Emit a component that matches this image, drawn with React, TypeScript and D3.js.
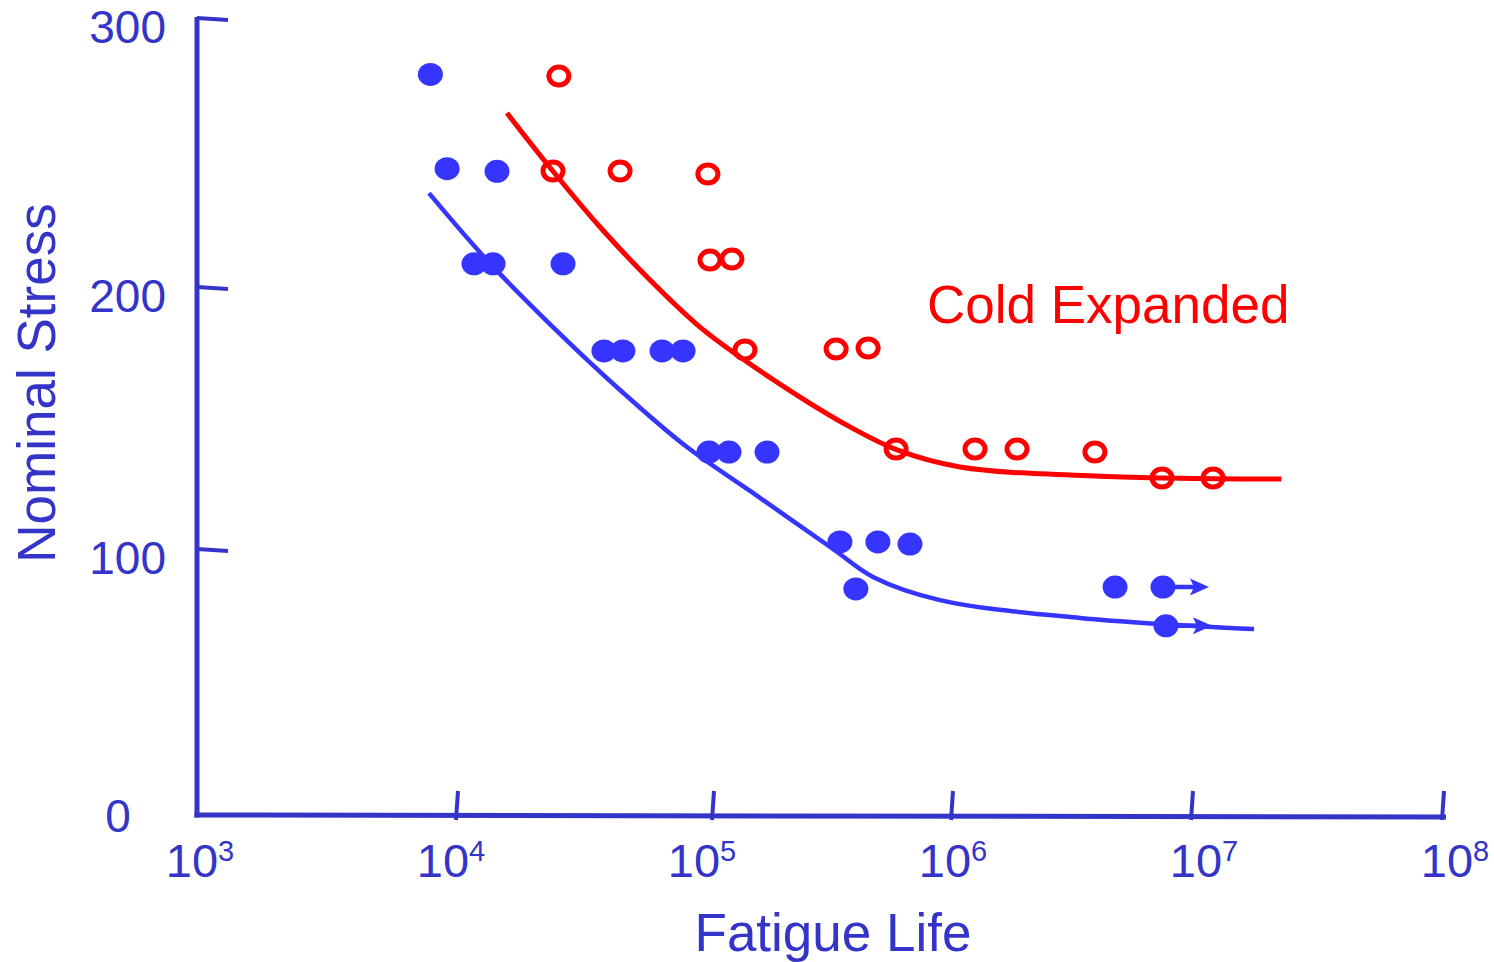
import React from "react";
import * as d3 from "d3";

// ---- data ----
const xTickValues = [1e3, 1e4, 1e5, 1e6, 1e7, 1e8];
const xTickExponents = ["3", "4", "5", "6", "7", "8"];
const yTickValues = [0, 100, 200, 300];

// Baseline (as-drilled) specimens – filled blue dots
const baselineLife = [7900, 9160, 14330, 11650, 13830, 25950, 37500, 44460, 63230, 76380, 96400, 116700, 168300, 339700, 489700, 667200, 396000, 4780000, 7570000, 7790000];
const baselineStress = [279, 244, 243, 208.6, 208.6, 208.6, 175.6, 175.6, 175.6, 175.6, 137, 137, 137, 102.7, 102.7, 101.9, 85, 85.7, 85.7, 71.1];
const baselineRunout = [false, false, false, false, false, false, false, false, false, false, false, false, false, false, false, false, false, false, true, true];

// Cold expanded specimens – open red circles
const coldLife = [25000, 23710, 43350, 95500, 97300, 120000, 136100, 327400, 445600, 583600, 1247000, 1866000, 3940000, 7500000, 12130000];
const coldStress = [278.4, 243.1, 243.1, 242, 210, 210.4, 176, 176.3, 176.7, 138.2, 138.2, 138.2, 137, 127.1, 127.1];

// Fitted S-N curves
const baselineCurveLife = [7803, 13100, 23710, 43320, 79140, 147000, 317800, 467100, 890600, 3414000, 17660000];
const baselineCurveStress = [234.9, 210.0, 184.7, 160.7, 138.9, 121.4, 100.0, 89.5, 80.8, 74.1, 69.9];
const coldCurveLife = [15670, 23500, 36190, 56750, 88960, 129700, 231200, 374300, 588800, 1080000, 4140000, 22700000];
const coldCurveStress = [264.7, 243.5, 222.3, 202.6, 184.7, 173.3, 158.0, 146.6, 137.8, 131.3, 127.8, 126.7];

const seriesLabel = "Cold Expanded";
const xTitle = "Fatigue Life";
const yTitle = "Nominal Stress";

// ---- styles ----
const AXIS = "#3434c8";
const BLUE = "#3535ff";
const RED = "#ff0000";
const FONT = "'Liberation Sans', Arial, Helvetica, sans-serif";

export default function App() {
  const W = 1494;
  const H = 962;

  // hand-drawn axis: decades are not perfectly even
  const x = d3.scaleLog().domain(xTickValues).range([197, 457, 713, 952, 1192, 1443]);
  // tick labels sit on an even spacing
  const xLabel = d3.scaleLog().domain([1e3, 1e8]).range([200, 1455]);
  const y = d3.scaleLinear().domain(yTickValues).range([815, 549, 287, 18]);

  const x0 = x(1e3);
  const y0 = y(0);

  const line = d3
    .line<[number, number]>()
    .x((d) => x(d[0]))
    .y((d) => y(d[1]))
    .curve(d3.curveCatmullRom.alpha(0.5));

  const baselineCurve = line(baselineCurveLife.map((v, i) => [v, baselineCurveStress[i]]));
  const coldCurve = line(coldCurveLife.map((v, i) => [v, coldCurveStress[i]]));

  return (
    <div style={{ position: "absolute", left: 0, top: 0 }}>
      <svg width={W} height={H} style={{ display: "block", background: "#fff" }}>
        {/* axes */}
        <line x1={x0} y1={y(300) - 1} x2={x0} y2={y0 + 2.5} stroke={AXIS} strokeWidth={5} />
        <line x1={x0 - 2.5} y1={y0} x2={x(1e8) + 3} y2={y0 + 2} stroke={AXIS} strokeWidth={5} />
        {yTickValues
          .filter((v) => v > 0)
          .map((v) => (
            <line key={"yt" + v} x1={x0} y1={y(v)} x2={x0 + 31} y2={y(v) + 2} stroke={AXIS} strokeWidth={4} />
          ))}
        {xTickValues.slice(1).map((v) => (
          <line key={"xt" + v} x1={x(v) - 1} y1={y0 + 5} x2={x(v) + 1} y2={y0 - 24} stroke={AXIS} strokeWidth={4} />
        ))}

        {/* y tick labels */}
        {yTickValues.map((v) => (
          <text
            key={"yl" + v}
            x={v === 0 ? 118 : 166}
            y={v === 0 ? y(v) + 17 : y(v) + 25}
            textAnchor={v === 0 ? "middle" : "end"}
            fontFamily={FONT}
            fontSize={46}
            fill={AXIS}
          >
            {String(v)}
          </text>
        ))}

        {/* x tick labels */}
        {xTickValues.map((v, i) => (
          <text
            key={"xl" + v}
            x={xLabel(v)}
            y={877}
            textAnchor="middle"
            fontFamily={FONT}
            fontSize={47}
            fill={AXIS}
          >
            10
            <tspan fontSize={29} dy={-16}>
              {xTickExponents[i]}
            </tspan>
          </text>
        ))}

        {/* axis titles */}
        <text x={833} y={951} textAnchor="middle" fontFamily={FONT} fontSize={53} fill={AXIS}>
          {xTitle}
        </text>
        <text
          transform={`translate(55,383) rotate(-90)`}
          textAnchor="middle"
          fontFamily={FONT}
          fontSize={53}
          fill={AXIS}
        >
          {yTitle}
        </text>

        {/* curves */}
        <path d={baselineCurve || ""} fill="none" stroke={BLUE} strokeWidth={4.5} />
        <path d={coldCurve || ""} fill="none" stroke={RED} strokeWidth={5} />

        {/* baseline points */}
        {baselineLife.map((v, i) => (
          <g key={"b" + i}>
            <ellipse cx={x(v)} cy={y(baselineStress[i])} rx={12.5} ry={11.5} fill={BLUE} />
            {baselineRunout[i] && (
              <g>
                <line
                  x1={x(v)}
                  y1={y(baselineStress[i])}
                  x2={x(v) + 36}
                  y2={y(baselineStress[i])}
                  stroke={BLUE}
                  strokeWidth={4.5}
                />
                <path
                  d={`M${x(v) + 27},${y(baselineStress[i]) - 8.5} L${x(v) + 46},${y(baselineStress[i])} L${x(v) + 27},${y(baselineStress[i]) + 8.5} L${x(v) + 31},${y(baselineStress[i])} Z`}
                  fill={BLUE}
                />
              </g>
            )}
          </g>
        ))}

        {/* cold expanded points */}
        {coldLife.map((v, i) => (
          <ellipse
            key={"c" + i}
            cx={x(v)}
            cy={y(coldStress[i])}
            rx={10}
            ry={9}
            fill="none"
            stroke={RED}
            strokeWidth={5}
          />
        ))}

        {/* series label */}
        <text x={927} y={323} fontFamily={FONT} fontSize={53} fill={RED}>
          {seriesLabel}
        </text>
      </svg>
    </div>
  );
}
